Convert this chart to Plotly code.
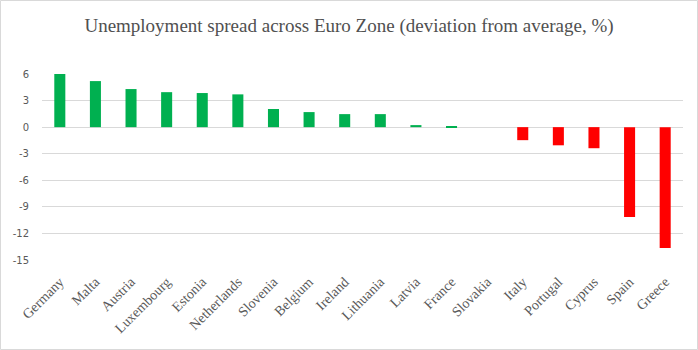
import plotly.graph_objects as go

countries = ["Germany", "Malta", "Austria", "Luxembourg", "Estonia", "Netherlands",
             "Slovenia", "Belgium", "Ireland", "Lithuania", "Latvia", "France",
             "Slovakia", "Italy", "Portugal", "Cyprus", "Spain", "Greece"]
deviation = [6.0, 5.2, 4.3, 3.95, 3.85, 3.7, 2.05, 1.7, 1.47, 1.47, 0.23, 0.11,
             0.0, -1.47, -2.05, -2.38, -10.15, -13.65]
y_ticks = [6, 3, 0, -3, -6, -9, -12, -15]

colors = ["#00B050" if v >= 0 else "#FF0000" for v in deviation]

W, H = 698, 350
ml, mr, mt, mb = 42, 15, 74, 90
pw, ph = W - ml - mr, H - mt - mb

fig = go.Figure(go.Bar(x=countries, y=deviation, marker=dict(color=colors, line=dict(width=0)),
                       hoverinfo="x+y"))

def px_x(p):
    return (p - ml) / pw

def px_y(p):
    return 1 - (p - mt) / ph

fig.update_layout(
    width=W, height=H,
    margin=dict(l=ml, r=mr, t=mt, b=mb, autoexpand=False),
    paper_bgcolor="white", plot_bgcolor="white",
    bargap=0.69,
    showlegend=False,
    title=dict(text="Unemployment spread across Euro Zone (deviation from average, %)",
               x=0.5, xanchor="center", y=1 - 25 / H, yanchor="middle",
               font=dict(family="Liberation Serif, DejaVu Serif, serif", size=19, color="#505050")),
    xaxis=dict(tickangle=-45, showgrid=False, showline=False, ticks="", automargin=False,
               ticklabelstandoff=10,
               tickfont=dict(family="Liberation Serif, serif", size=14, color="#595959")),
    yaxis=dict(range=[-15, 6], tickvals=y_ticks, ticktext=[str(v) for v in y_ticks],
               showgrid=True, gridcolor="#D9D9D9", gridwidth=1, automargin=False,
               zeroline=True, zerolinecolor="#D9D9D9", zerolinewidth=1,
               showline=False, ticks="", ticklabelstandoff=12,
               tickfont=dict(family="DejaVu Sans, sans-serif", size=10, color="#595959")),
    shapes=[dict(type="rect", xref="paper", yref="paper",
                 x0=px_x(0.5), x1=px_x(W - 0.5), y0=px_y(0.5), y1=px_y(H - 0.5),
                 line=dict(color="#D9D9D9", width=1), layer="below")],
)

fig.write_html("out.html")
